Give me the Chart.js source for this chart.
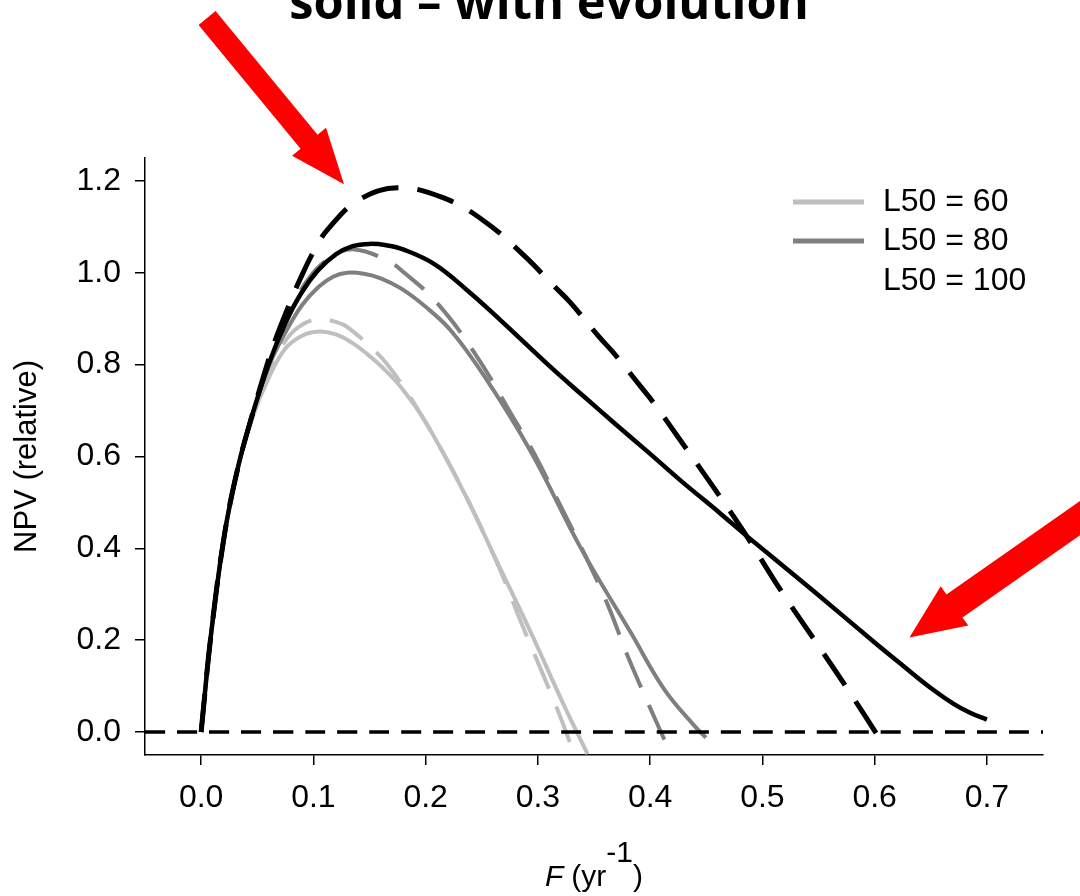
<!DOCTYPE html>
<html>
<head>
<meta charset="utf-8">
<script src="https://cdn.jsdelivr.net/npm/chart.js@4.4.1/dist/chart.umd.min.js"></script>
<style>
  html, body { margin: 0; padding: 0; background: #fff; }
  #wrap { width: 1080px; height: 896px; }
</style>
</head>
<body>
<div id="wrap"><canvas id="npvChart" width="1080" height="896"></canvas></div>
<script>
/* Ejes */
const fTicks = [0, 0.1, 0.2, 0.3, 0.4, 0.5, 0.6, 0.7];
const npvTicks = [0, 0.2, 0.4, 0.6, 0.8, 1.0, 1.2];
const legendLabels = ['L50 = 60', 'L50 = 80', 'L50 = 100'];

/* L50 = 60 */
const fL60Evo   = [0, 0.009, 0.021, 0.033, 0.045, 0.06, 0.075, 0.09, 0.105, 0.12, 0.1336, 0.148, 0.1632, 0.18, 0.2, 0.2345, 0.2642, 0.2939, 0.3235, 0.3443];
const npvL60Evo = [0, 0.216, 0.433, 0.578, 0.68, 0.77, 0.835, 0.863, 0.872, 0.866, 0.849, 0.823, 0.79, 0.745, 0.675, 0.520, 0.368, 0.216, 0.057, -0.048];
const fL60NoEvo   = [0, 0.009, 0.021, 0.033, 0.045, 0.06, 0.075, 0.088, 0.1039, 0.12, 0.1306, 0.1573, 0.1722, 0.19, 0.2256, 0.2612, 0.2864, 0.3161, 0.3324];
const npvL60NoEvo = [0, 0.216, 0.433, 0.578, 0.684, 0.785, 0.852, 0.884, 0.899, 0.893, 0.881, 0.824, 0.780, 0.715, 0.563, 0.382, 0.231, 0.057, -0.048];

/* L50 = 80 */
const fL80Evo   = [0, 0.009, 0.021, 0.033, 0.045, 0.06, 0.075, 0.09, 0.105, 0.118, 0.13, 0.145, 0.16, 0.178, 0.2, 0.2226, 0.2523, 0.2939, 0.3384, 0.3829, 0.4126, 0.4393, 0.4497];
const npvL80Evo = [0, 0.216, 0.433, 0.578, 0.686, 0.795, 0.87, 0.93, 0.97, 0.992, 1.0, 0.998, 0.988, 0.966, 0.926, 0.874, 0.775, 0.61, 0.40, 0.216, 0.093, 0.014, -0.012];
const fL80NoEvo   = [0, 0.009, 0.021, 0.033, 0.045, 0.06, 0.077, 0.095, 0.115, 0.1365, 0.1662, 0.181, 0.2093, 0.2434, 0.2805, 0.2968, 0.3191, 0.3413, 0.3621, 0.3799, 0.3992, 0.4185];
const npvL80NoEvo = [0, 0.216, 0.433, 0.578, 0.686, 0.805, 0.905, 0.985, 1.033, 1.051, 1.026, 1.0, 0.937, 0.826, 0.675, 0.606, 0.498, 0.389, 0.278, 0.166, 0.057, -0.048];

/* L50 = 100 */
const fL100Evo   = [0, 0.009, 0.021, 0.033, 0.045, 0.06, 0.075, 0.089, 0.104, 0.12, 0.135, 0.15, 0.165, 0.18, 0.2078, 0.2375, 0.2671, 0.309, 0.3413, 0.368, 0.398, 0.427, 0.463, 0.487, 0.549, 0.6, 0.625, 0.65, 0.67, 0.685, 0.70];
const npvL100Evo = [0, 0.216, 0.433, 0.578, 0.686, 0.80, 0.89, 0.955, 1.005, 1.04, 1.058, 1.063, 1.06, 1.051, 1.019, 0.961, 0.896, 0.80, 0.73, 0.673, 0.610, 0.548, 0.475, 0.425, 0.300, 0.195, 0.145, 0.096, 0.062, 0.042, 0.027];
const fL100NoEvo   = [0, 0.009, 0.021, 0.033, 0.045, 0.06, 0.067, 0.080, 0.087, 0.101, 0.113, 0.140, 0.175, 0.216, 0.252, 0.288, 0.314, 0.329, 0.354, 0.368, 0.392, 0.4037, 0.425, 0.457, 0.484, 0.516, 0.546, 0.576, 0.606];
const npvL100NoEvo = [0, 0.216, 0.433, 0.578, 0.686, 0.81, 0.86, 0.94, 0.98, 1.05, 1.095, 1.158, 1.185, 1.163, 1.113, 1.037, 0.972, 0.935, 0.862, 0.824, 0.751, 0.715, 0.642, 0.531, 0.434, 0.31, 0.202, 0.093, -0.02];

/* Línea de referencia en cero */
const fZero = [-0.05, 0.75];
const npvZero = [0, 0];

/* Flechas rojas (cola -> punta, en unidades de los ejes) */
const arrowTails = [[0.0053, 1.555], [0.8, 0.495]];
const arrowTips  = [[0.1273, 1.193], [0.631, 0.206]];

const colores = { claro: '#bfbfbf', medio: '#7f7f7f', negro: '#000000' };
const fuente = '"Liberation Sans", Arial, sans-serif';

function pts(xs, ys) {
  return xs.map((x, i) => ({ x: x, y: ys[i] }));
}

function serie(xs, ys, color, width, dash) {
  return {
    data: pts(xs, ys),
    borderColor: color,
    borderWidth: width,
    borderDash: dash,
    pointRadius: 0,
    fill: false,
    tension: 0.4,
    borderCapStyle: 'butt'
  };
}

/* Dibuja título, nombres de ejes, leyenda y flechas */
const decorPlugin = {
  id: 'decor',
  afterDraw(chart) {
    const ctx = chart.ctx;
    const xs = chart.scales.x, ys = chart.scales.y;
    const area = chart.chartArea;
    ctx.save();

    // título (cortado arriba como en la figura)
    ctx.fillStyle = '#000';
    ctx.font = 'bold 40px "Open Sans"';
    const w = ctx.measureText('solid \u2013 with evolution').width;
    const size = 40 * 520 / w;
    ctx.font = 'bold ' + size.toFixed(1) + 'px "Open Sans"';
    ctx.textAlign = 'center';
    ctx.textBaseline = 'alphabetic';
    ctx.fillText('solid \u2013 with evolution', 549, 19);

    // eje y
    ctx.save();
    ctx.translate(27, (area.top + area.bottom) / 2);
    ctx.rotate(-Math.PI / 2);
    ctx.font = '31px ' + fuente;
    ctx.textAlign = 'center';
    ctx.textBaseline = 'middle';
    ctx.fillText('NPV (relative)', 0, 0);
    ctx.restore();

    // eje x: F (yr^-1)
    const base = 886;
    const fontN = '30px ' + fuente;
    const fontI = 'italic 30px ' + fuente;
    ctx.textAlign = 'left';
    ctx.font = fontI;
    const wF = ctx.measureText('F').width;
    ctx.font = fontN;
    const wA = ctx.measureText('(yr').width;
    const wS = ctx.measureText('-1').width;
    const wB = ctx.measureText(')').width;
    const gap = 8;
    const total = wF + gap + wA + wS + wB;
    let x0 = (area.left + area.right) / 2 - total / 2;
    ctx.font = fontI;
    ctx.fillText('F', x0, base);
    x0 += wF + gap;
    ctx.font = fontN;
    ctx.fillText('(yr', x0, base);
    x0 += wA;
    ctx.fillText('-1', x0, base - 24);
    x0 += wS;
    ctx.fillText(')', x0, base);

    // leyenda
    const legCol = [colores.claro, colores.medio, null];
    const legY = [202, 241, 281];
    ctx.font = '32px ' + fuente;
    ctx.textBaseline = 'middle';
    legendLabels.forEach((lab, i) => {
      if (legCol[i]) {
        ctx.strokeStyle = legCol[i];
        ctx.lineWidth = 5;
        ctx.beginPath();
        ctx.moveTo(793, legY[i]);
        ctx.lineTo(864, legY[i]);
        ctx.stroke();
      }
      ctx.fillStyle = '#000';
      ctx.fillText(lab, 883, legY[i]);
    });

    // flechas
    const dims = [{ shaft: 11, head: 22, headLen: 55 }, { shaft: 14, head: 24, headLen: 55 }];
    ctx.fillStyle = '#ff0000';
    arrowTips.forEach((tip, i) => {
      const tx = xs.getPixelForValue(tip[0]), ty = ys.getPixelForValue(tip[1]);
      const sx = xs.getPixelForValue(arrowTails[i][0]), sy = ys.getPixelForValue(arrowTails[i][1]);
      const len = Math.hypot(tx - sx, ty - sy);
      const ux = (tx - sx) / len, uy = (ty - sy) / len;
      const px = -uy, py = ux;
      const d = dims[i];
      const bx = tx - ux * d.headLen, by = ty - uy * d.headLen;
      ctx.beginPath();
      ctx.moveTo(sx + px * d.shaft, sy + py * d.shaft);
      ctx.lineTo(bx + px * d.shaft, by + py * d.shaft);
      ctx.lineTo(bx + px * d.head, by + py * d.head);
      ctx.lineTo(tx, ty);
      ctx.lineTo(bx - px * d.head, by - py * d.head);
      ctx.lineTo(bx - px * d.shaft, by - py * d.shaft);
      ctx.lineTo(sx - px * d.shaft, sy - py * d.shaft);
      ctx.closePath();
      ctx.fill();
    });

    ctx.restore();
  }
};

const tickFont = { family: fuente, size: 32 };

new Chart(document.getElementById('npvChart'), {
  type: 'line',
  data: {
    datasets: [
      serie(fZero, npvZero, colores.negro, 3.5, [20, 12]),
      serie(fL100NoEvo, npvL100NoEvo, colores.negro, 5, [38, 19]),
      serie(fL100Evo, npvL100Evo, colores.negro, 4.5, []),
      serie(fL80NoEvo, npvL80NoEvo, colores.medio, 4, [38, 19]),
      serie(fL80Evo, npvL80Evo, colores.medio, 4, []),
      serie(fL60NoEvo, npvL60NoEvo, colores.claro, 4, [38, 19]),
      serie(fL60Evo, npvL60Evo, colores.claro, 4, [])
    ]
  },
  options: {
    responsive: false,
    animation: false,
    layout: { padding: { top: 158, right: 37, left: 0, bottom: 0 } },
    plugins: {
      legend: { display: false },
      tooltip: { enabled: false },
      title: { display: false }
    },
    scales: {
      x: {
        type: 'linear',
        min: -0.05,
        max: 0.75,
        afterBuildTicks: axis => { axis.ticks = fTicks.map(v => ({ value: v })); },
        afterFit: axis => { axis.height = 141; },
        ticks: { font: tickFont, color: '#000', padding: 14, autoSkip: false, maxRotation: 0,
                 callback: v => v.toFixed(1) },
        grid: { drawOnChartArea: false, drawTicks: true, tickLength: 10, color: '#000', lineWidth: 1.5 },
        border: { display: true, color: '#000', width: 1.5 }
      },
      y: {
        type: 'linear',
        min: -0.05,
        max: 1.25,
        afterBuildTicks: axis => { axis.ticks = npvTicks.map(v => ({ value: v })); },
        afterFit: axis => { axis.width = 145; },
        ticks: { font: tickFont, color: '#000', padding: 14, autoSkip: false,
                 callback: v => v.toFixed(1) },
        grid: { drawOnChartArea: false, drawTicks: true, tickLength: 10, color: '#000', lineWidth: 1.5 },
        border: { display: true, color: '#000', width: 1.5 }
      }
    }
  },
  plugins: [decorPlugin]
});
</script>
</body>
</html>
